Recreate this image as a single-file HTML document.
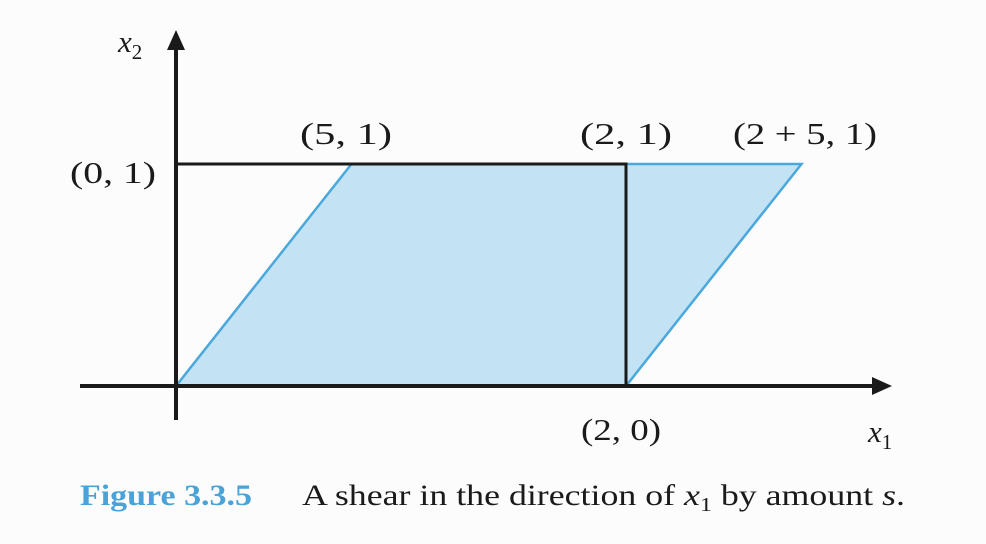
<!DOCTYPE html>
<html>
<head>
<meta charset="utf-8">
<style>
html,body{margin:0;padding:0;background:#fcfcfc;}
svg{display:block;}
text{font-family:"Liberation Serif","DejaVu Serif",serif;fill:#1a1a1a;}
</style>
</head>
<body>
<svg width="986" height="544" viewBox="0 0 986 544" id="fig">
  <g id="marks"></g>
  <line x1="80" y1="386" x2="878" y2="386" stroke="#1a1a1a" stroke-width="4"/>
  <polygon points="892,386 872,377 872,395" fill="#1a1a1a"/>
  <line x1="176" y1="420" x2="176" y2="44" stroke="#1a1a1a" stroke-width="4"/>
  <polygon points="176,30 167,50 185,50" fill="#1a1a1a"/>
  <text x="118" y="52" font-size="31" font-style="italic">x<tspan font-size="21" dy="7" font-style="normal">2</tspan></text>
  <text x="868" y="442" font-size="31" font-style="italic">x<tspan font-size="21" dy="7" font-style="normal">1</tspan></text>
  <text x="300" y="144" font-size="31" textLength="92" lengthAdjust="spacingAndGlyphs">(5, 1)</text>
  <text x="580" y="144" font-size="31" textLength="92" lengthAdjust="spacingAndGlyphs">(2, 1)</text>
  <text x="733" y="144" font-size="31" textLength="144" lengthAdjust="spacingAndGlyphs">(2 + 5, 1)</text>
  <text x="70" y="183" font-size="31" textLength="86" lengthAdjust="spacingAndGlyphs">(0, 1)</text>
  <text x="581" y="440" font-size="31" textLength="80" lengthAdjust="spacingAndGlyphs">(2, 0)</text>
  <text x="80" y="505" font-size="30" font-weight="bold" textLength="172" lengthAdjust="spacingAndGlyphs" style="fill:#4aa3d8">Figure 3.3.5</text>
  <text x="302" y="505" font-size="30" textLength="603" lengthAdjust="spacingAndGlyphs">A shear in the direction of <tspan font-style="italic">x</tspan><tspan font-size="20" dy="6">1</tspan><tspan dy="-6"> by amount </tspan><tspan font-style="italic">s</tspan>.</text>
</svg>
<script>
const rectX = [0, 2];
const rectY = [0, 1];
const shearS = [0.78];

const sx = v => 176 + v * 225;
const sy = v => 386 - v * 222;
const g = document.getElementById('marks');
const NS = 'http://www.w3.org/2000/svg';

const s = shearS[0];
const pts = [[rectX[0], rectY[0]], [rectX[0] + s, rectY[1]], [rectX[1] + s, rectY[1]], [rectX[1], rectY[0]]];
const poly = document.createElementNS(NS, 'polygon');
poly.setAttribute('points', pts.map(p => sx(p[0]) + ',' + sy(p[1])).join(' '));
poly.setAttribute('fill', '#c3e2f4');
poly.setAttribute('stroke', '#4aa8dc');
poly.setAttribute('stroke-width', '2.5');


g.appendChild(poly);

const rect = document.createElementNS(NS, 'polyline');
rect.setAttribute('points', [sx(rectX[0]) + ',' + sy(rectY[1]), sx(rectX[1]) + ',' + sy(rectY[1]), sx(rectX[1]) + ',' + sy(rectY[0])].join(' '));
rect.setAttribute('fill', 'none');
rect.setAttribute('stroke', '#1a1a1a');
rect.setAttribute('stroke-width', '3');


g.appendChild(rect);
</script>
</body>
</html>
